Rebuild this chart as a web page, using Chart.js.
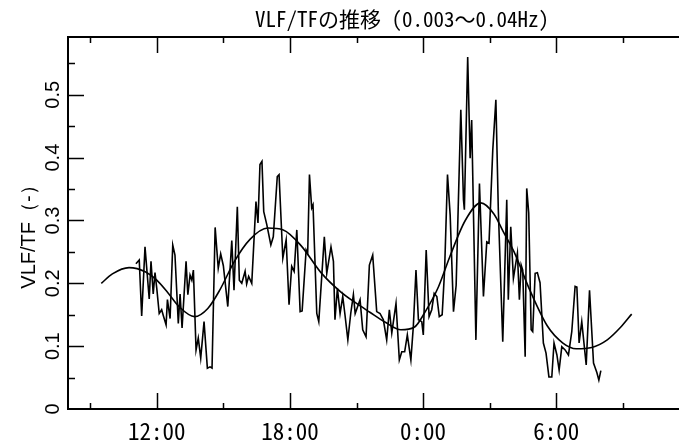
<!DOCTYPE html>
<html lang="ja">
<head>
<meta charset="UTF-8">
<title>VLF/TFの推移</title>
<script src="https://cdn.jsdelivr.net/npm/chart.js@4"></script>
<style>
    html, body { margin: 0; padding: 0; background: #fff; overflow: hidden; }
    #wrap { width: 804px; height: 445px; }
</style>
</head>
<body>
<div id="wrap"><canvas id="chart" width="804" height="445"></canvas></div>
<script>
// measured series (hours from 0:00 of day 1, values of VLF/TF)
const timeHours = [11.06, 11.21, 11.32, 11.47, 11.66, 11.74, 11.84, 11.92, 12.00, 12.11, 12.22, 12.30, 12.42, 12.48, 12.60, 12.72, 12.82, 12.97, 13.05, 13.14,
    13.32, 13.40, 13.50, 13.58, 13.65, 13.77, 13.87, 13.98, 14.13, 14.28, 14.40, 14.49, 14.63, 14.77, 14.88, 15.00, 15.20, 15.38, 15.48, 15.63,
    15.72, 15.83, 15.98, 16.05, 16.14, 16.28, 16.47, 16.56, 16.65, 16.74, 16.82, 16.96, 17.14, 17.25, 17.43, 17.51, 17.68, 17.83, 17.96, 18.08,
    18.19, 18.31, 18.46, 18.55, 18.73, 18.80, 18.88, 18.98, 19.04, 19.21, 19.30, 19.55, 19.66, 19.85, 19.96, 20.03, 20.14, 20.26, 20.38, 20.48,
    20.61, 20.74, 20.86, 20.94, 21.16, 21.28, 21.43, 21.58, 21.73, 21.91, 22.06, 22.21, 22.36, 22.48, 22.59, 22.78, 22.93, 23.04, 23.17, 23.29,
    23.45, 23.56, 23.68, 23.79, 23.94, 24.01, 24.14, 24.27, 24.39, 24.50, 24.62, 24.73, 24.86, 24.97, 25.10, 25.22, 25.37, 25.49, 25.70, 25.82,
    25.86, 26.01, 26.12, 26.19, 26.38, 26.54, 26.72, 26.87, 26.97, 27.14, 27.28, 27.39, 27.59, 27.77, 27.84, 27.95, 28.07, 28.25, 28.34, 28.42,
    28.49, 28.60, 28.67, 28.76, 28.87, 28.94, 29.05, 29.15, 29.27, 29.42, 29.54, 29.67, 29.80, 29.90, 30.03, 30.13, 30.25, 30.40, 30.55, 30.70,
    30.85, 30.93, 31.03, 31.15, 31.35, 31.50, 31.68, 31.83, 31.92, 32.01];
const ratioValues = [0.231, 0.237, 0.148, 0.258, 0.175, 0.235, 0.183, 0.217, 0.192, 0.152, 0.158, 0.148, 0.134, 0.174, 0.144, 0.261, 0.245, 0.136, 0.183, 0.129,
    0.235, 0.182, 0.213, 0.205, 0.221, 0.094, 0.113, 0.081, 0.139, 0.065, 0.067, 0.065, 0.289, 0.224, 0.247, 0.228, 0.163, 0.268, 0.189, 0.322,
    0.205, 0.200, 0.219, 0.199, 0.211, 0.200, 0.330, 0.296, 0.389, 0.394, 0.314, 0.293, 0.261, 0.274, 0.370, 0.373, 0.240, 0.269, 0.166, 0.227,
    0.219, 0.285, 0.155, 0.156, 0.253, 0.248, 0.373, 0.320, 0.325, 0.152, 0.139, 0.274, 0.216, 0.258, 0.235, 0.142, 0.192, 0.152, 0.179, 0.150,
    0.110, 0.152, 0.182, 0.152, 0.174, 0.126, 0.115, 0.229, 0.245, 0.155, 0.152, 0.142, 0.110, 0.158, 0.121, 0.168, 0.078, 0.091, 0.091, 0.118,
    0.078, 0.131, 0.221, 0.142, 0.139, 0.118, 0.253, 0.147, 0.158, 0.184, 0.179, 0.147, 0.150, 0.221, 0.373, 0.309, 0.155, 0.197, 0.476, 0.333,
    0.317, 0.560, 0.399, 0.460, 0.110, 0.359, 0.179, 0.266, 0.264, 0.412, 0.492, 0.317, 0.107, 0.333, 0.174, 0.290, 0.208, 0.248, 0.174, 0.229,
    0.221, 0.083, 0.351, 0.312, 0.126, 0.123, 0.216, 0.217, 0.201, 0.105, 0.089, 0.051, 0.051, 0.105, 0.086, 0.062, 0.099, 0.094, 0.086, 0.123,
    0.195, 0.194, 0.105, 0.139, 0.070, 0.189, 0.073, 0.058, 0.046, 0.061];

// smoothed trend curve
const trendHours = [9.5, 10.0, 10.75, 11.5, 12.0, 12.5, 13.0, 13.7, 14.3, 14.85, 15.5, 16.2, 17.0, 17.7, 18.5, 19.4, 20.3, 21.0, 21.6, 22.3,
    23.0, 23.6, 24.1, 24.7, 25.2, 25.9, 26.6, 27.2, 27.6, 28.1, 28.8, 29.6, 30.3, 30.9, 31.6, 32.3, 32.9, 33.4];
const trendValues = [0.200, 0.215, 0.225, 0.218, 0.205, 0.185, 0.163, 0.147, 0.160, 0.190, 0.235, 0.270, 0.288, 0.285, 0.260, 0.217, 0.186, 0.168, 0.154, 0.138,
    0.126, 0.130, 0.155, 0.195, 0.242, 0.300, 0.328, 0.310, 0.283, 0.250, 0.190, 0.132, 0.105, 0.096, 0.098, 0.110, 0.130, 0.151];

// axes
const majorHours = [12, 18, 24, 30];
const majorLabels = ['12:00', '18:00', '0:00', '6:00'];
const minorHours = [9, 15, 21, 27, 33];
const yMajor = [0, 0.1, 0.2, 0.3, 0.4, 0.5];
const yLabels = ['0', '0.1', '0.2', '0.3', '0.4', '0.5'];
const yMinor = [0.05, 0.15, 0.25, 0.35, 0.45, 0.55];

const chartTitle = 'VLF/TFの推移 (0.003～0.04Hz)';
const yTitle = 'VLF/TF（-）';

const monoFont = '"Noto Sans Mono CJK JP", "DejaVu Sans Mono", monospace';
const sansFont = '"Liberation Sans", Arial, sans-serif';

// frame, inward ticks and labels (drawn from the chart's scales)
const framePlugin = {
    id: 'frame',
    afterDraw(chart) {
        const ctx = chart.ctx;
        const xs = chart.scales.x, ys = chart.scales.y;
        const a = chart.chartArea;
        ctx.save();
        ctx.strokeStyle = '#000';
        ctx.lineWidth = 2;
        ctx.beginPath();
        ctx.moveTo(a.right, a.top); ctx.lineTo(a.left, a.top);
        ctx.lineTo(a.left, a.bottom); ctx.lineTo(a.right, a.bottom);
        ctx.stroke();

        ctx.lineWidth = 1.5;
        ctx.beginPath();
        const xt = (h, len) => {
            const px = Math.round(xs.getPixelForValue(h)) + 0.5;
            ctx.moveTo(px, a.bottom); ctx.lineTo(px, a.bottom - len);
            ctx.moveTo(px, a.top); ctx.lineTo(px, a.top + len);
        };
        majorHours.forEach(h => xt(h, 16));
        minorHours.forEach(h => xt(h, 6));
        const yt = (v, len) => {
            const py = Math.round(ys.getPixelForValue(v)) + 0.5;
            ctx.moveTo(a.left, py); ctx.lineTo(a.left + len, py);
        };
        yMajor.forEach(v => { if (v > 0) yt(v, 16); });
        yMinor.forEach(v => yt(v, 7));
        ctx.stroke();

        ctx.fillStyle = '#000';
        // x tick labels
        ctx.font = '23px ' + monoFont;
        ctx.textAlign = 'center';
        ctx.textBaseline = 'middle';
        majorHours.forEach((h, i) => {
            ctx.fillText(majorLabels[i], xs.getPixelForValue(h), 431);
        });
        // y tick labels, rotated
        ctx.font = '20px ' + sansFont;
        yMajor.forEach((v, i) => {
            ctx.save();
            ctx.translate(53, ys.getPixelForValue(v));
            ctx.rotate(-Math.PI / 2);
            ctx.fillText(yLabels[i], 0, 0);
            ctx.restore();
        });
        // y title
        ctx.save();
        ctx.translate(29, 232);
        ctx.rotate(-Math.PI / 2);
        ctx.fillText(yTitle, 0, 0);
        ctx.restore();
        // chart title
        ctx.font = '21px ' + monoFont;
        ctx.fillText(chartTitle, 402, 19);
        ctx.restore();
    }
};

new Chart(document.getElementById('chart'), {
    type: 'line',
    data: {
        datasets: [{
            label: 'VLF/TF',
            data: timeHours.map((h, i) => ({ x: h, y: ratioValues[i] })),
            borderColor: '#000',
            borderWidth: 1.6,
            pointRadius: 0,
            tension: 0
        }, {
            label: 'trend',
            data: trendHours.map((h, i) => ({ x: h, y: trendValues[i] })),
            borderColor: '#000',
            borderWidth: 1.6,
            pointRadius: 0,
            cubicInterpolationMode: 'monotone'
        }]
    },
    options: {
        responsive: false,
        animation: false,
        layout: { padding: { left: 68, right: 68, top: 37, bottom: 36 } },
        scales: {
            x: { type: 'linear', min: 8, max: 38.1, display: false },
            y: { min: 0, max: 0.592, display: false }
        },
        plugins: {
            legend: { display: false },
            tooltip: { enabled: false },
            title: { display: false }
        }
    },
    plugins: [framePlugin]
});
</script>
</body>
</html>
